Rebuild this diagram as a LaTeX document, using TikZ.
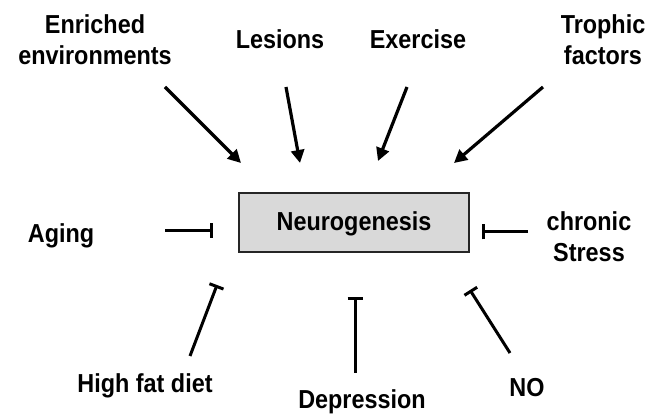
\documentclass[tikz,border=0pt]{standalone}
\usepackage{fontspec}
\setmainfont[FakeStretch=0.9]{Liberation Sans}
\usetikzlibrary{arrows.meta}
\begin{document}
\begin{tikzpicture}[x=1pt,y=-1pt,
  lbl/.style={font=\fontsize{26}{31}\selectfont\bfseries, align=center, inner sep=0pt},
  act/.style={line width=3.2pt, -{Triangle[length=13pt,width=13pt]}},
  inh/.style={line width=3pt, -{Bar[width=15pt,line width=3pt]}},
  box/.style={draw=black!85, line width=1.8pt, fill=black!15, minimum width=230pt, minimum height=59pt, inner sep=0pt}
]
\useasboundingbox (0,0) rectangle (649,414);
\node[box] (neuro) at (354,222.5) {};
\node[lbl] (neurotxt) at (354,224) {Neurogenesis};

\node[lbl] (enr) at (95,40) {Enriched\\environments};
\node[lbl] (les) at (280,39) {Lesions};
\node[lbl] (exe) at (418,39) {Exercise};
\node[lbl] (tro) at (603,40) {Trophic\\factors};
\node[lbl] (age) at (61,236) {Aging};
\node[lbl] (str) at (589,237) {chronic\\Stress};
\node[lbl] (hfd) at (145,386) {High fat diet};
\node[lbl] (dep) at (362,402) {Depression};
\node[lbl] (no) at (527,388) {NO};

\coordinate (enrS) at (165,87);  \coordinate (enrE) at (241,163);
\coordinate (lesS) at (286,87);  \coordinate (lesE) at (300,163);
\coordinate (exeS) at (407,87);  \coordinate (exeE) at (378,161);
\coordinate (troS) at (543,87);  \coordinate (troE) at (454,163);
\coordinate (ageS) at (165,231); \coordinate (ageE) at (213,231);
\coordinate (strS) at (528,232); \coordinate (strE) at (482,232);
\coordinate (hfdS) at (190,356); \coordinate (hfdE) at (217,285);
\coordinate (depS) at (355,373); \coordinate (depE) at (355,297);
\coordinate (noS) at (510,353);  \coordinate (noE) at (470,290);

\draw[act] (enrS) -- (enrE);
\draw[act] (lesS) -- (lesE);
\draw[act] (exeS) -- (exeE);
\draw[act] (troS) -- (troE);
\draw[inh] (ageS) -- (ageE);
\draw[inh] (strS) -- (strE);
\draw[inh] (hfdS) -- (hfdE);
\draw[inh] (depS) -- (depE);
\draw[inh] (noS) -- (noE);
\end{tikzpicture}
\end{document}
